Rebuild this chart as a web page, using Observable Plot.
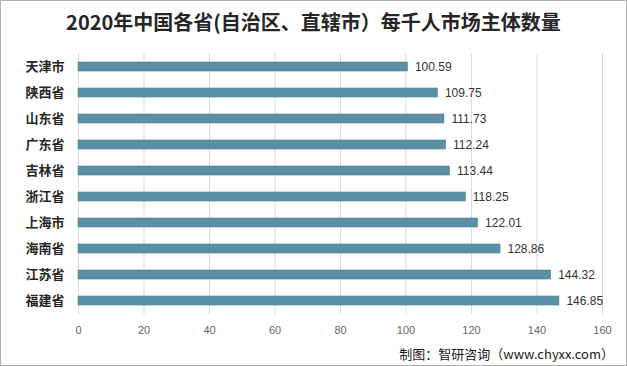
<!DOCTYPE html>
<html>
<head>
<meta charset="utf-8">
<script src="https://cdn.jsdelivr.net/npm/d3@7"></script>
<script src="https://cdn.jsdelivr.net/npm/@observablehq/plot@0.6"></script>
<style>
  body { margin: 0; background: #fff; }
  #wrap { position: relative; width: 627px; height: 366px; overflow: hidden; background: #fff; font-family: "Noto Sans CJK SC", "Liberation Sans", sans-serif; }
  #title { height: 44px; line-height: 44px; text-align: center; font-size: 20px; font-weight: bold; color: #262626; padding-left: 0px; }
  #caption { position: absolute; right: 13px; top: 344px; font-size: 13px; color: #1a1a1a; line-height: 20px; }
  #frame { position: absolute; left: 0; top: 0; width: 625px; height: 364px; border: 1px solid #b0b0b0; pointer-events: none; }
  svg { display: block; }
</style>
</head>
<body>
<div id="wrap">
  <div id="title">2020年中国各省(自治区、直辖市）每千人市场主体数量</div>
  <div id="chart"></div>
  <div id="caption">制图：智研咨询（www.chyxx.com）</div>
  <div id="frame"></div>
</div>
<script>
const provinces = ["天津市", "陕西省", "山东省", "广东省", "吉林省", "浙江省", "上海市", "海南省", "江苏省", "福建省"];
const values = [100.59, 109.75, 111.73, 112.24, 113.44, 118.25, 122.01, 128.86, 144.32, 146.85];
const xTicks = [0, 20, 40, 60, 80, 100, 120, 140, 160];

const data = provinces.map((p, i) => ({province: p, value: values[i]}));

const chart = Plot.plot({
  width: 627,
  height: 300,
  marginTop: 9,
  marginBottom: 29.6,
  marginLeft: 78,
  marginRight: 25,
  style: {fontFamily: "'Liberation Sans', Arial, sans-serif", background: "transparent"},
  x: {domain: [0, 160], ticks: xTicks},
  y: {domain: provinces, paddingInner: 0.67, paddingOuter: 0.335},
  marks: [
    Plot.gridX(xTicks, {stroke: "#d9d9d9", strokeOpacity: 1, strokeWidth: 1}),
    Plot.barX(data, {y: "province", x: "value", fill: "#5b8fa6", stroke: "#4f8199", strokeWidth: 0.6}),
    Plot.text(data, {y: "province", x: "value", text: d => d.value.toFixed(2), textAnchor: "start", dx: 7, fontSize: 12, fill: "#333"}),
    Plot.axisX({ticks: xTicks, tickSize: 0, tickPadding: 11, fontSize: 11, color: "#666", label: null}),
    Plot.axisY({tickSize: 0, tickPadding: 14, fontSize: 13, fontWeight: "bold", color: "#262626", label: null, fontFamily: "'Noto Sans CJK SC', sans-serif"})
  ]
});
document.getElementById("chart").appendChild(chart);
</script>
</body>
</html>
